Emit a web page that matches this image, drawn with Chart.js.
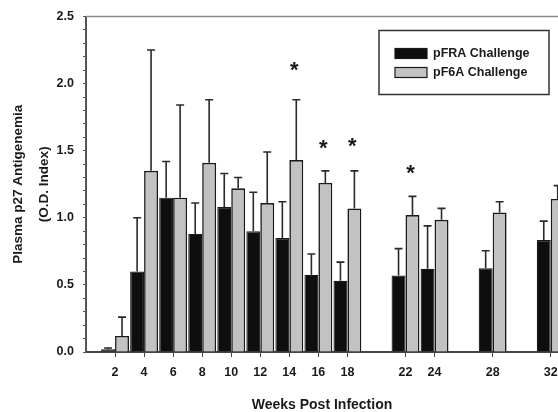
<!DOCTYPE html>
<html>
<head>
<meta charset="utf-8">
<script src="https://cdn.jsdelivr.net/npm/chart.js@4/dist/chart.umd.min.js"></script>
<style>
	html, body { margin: 0; padding: 0; background: #fff; }
	#wrap { width: 558px; height: 412px; position: relative; }
</style>
</head>
<body>
<div id="wrap"><canvas id="p27Chart"></canvas></div>
<script>
// --- Data ---
const weeks = [2, 4, 6, 8, 10, 12, 14, 16, 18, 22, 24, 28, 32];
const pfraMean = [0.02, 0.60, 1.15, 0.88, 1.08, 0.90, 0.85, 0.575, 0.53, 0.57, 0.62, 0.625, 0.835];
const pfraErr = [0.01, 0.40, 0.27, 0.23, 0.25, 0.29, 0.27, 0.155, 0.14, 0.20, 0.32, 0.13, 0.14];
const pf6aMean = [0.12, 1.35, 1.15, 1.41, 1.22, 1.11, 1.43, 1.26, 1.07, 1.02, 0.985, 1.04, 1.14];
const pf6aErr = [0.14, 0.90, 0.69, 0.47, 0.08, 0.38, 0.45, 0.09, 0.28, 0.14, 0.085, 0.08, 0.10];
// significant points, marked with "*" over the pF6A bars
const starWeeks = [14, 16, 18, 22];
const starLevels = [2.11, 1.53, 1.54, 1.34];
const yTicks = [0.0, 0.5, 1.0, 1.5, 2.0, 2.5];

const FONT = "Arial, 'Liberation Sans', sans-serif";
const INK = "#1a1a1a";

function points(means) {
	return weeks.map((w, i) => ({ x: w, y: means[i] }));
}

// Error bars (upper only, with a cap)
const errorBars = {
	id: "errorBars",
	afterDatasetsDraw(chart) {
		const ctx = chart.ctx;
		const y = chart.scales.y;
		ctx.save();
		ctx.strokeStyle = "#2a2a2a";
		ctx.lineWidth = 1.6;
		chart.data.datasets.forEach((ds, i) => {
			const meta = chart.getDatasetMeta(i);
			meta.data.forEach((bar, j) => {
				const top = y.getPixelForValue(ds.data[j].y + ds.errors[j]);
				ctx.beginPath();
				ctx.moveTo(bar.x, bar.y);
				ctx.lineTo(bar.x, top);
				ctx.moveTo(bar.x - 4, top);
				ctx.lineTo(bar.x + 4, top);
				ctx.stroke();
			});
		});
		ctx.restore();
	},
};

// Asterisks above the pF6A error bars
const stars = {
	id: "stars",
	afterDatasetsDraw(chart) {
		const ctx = chart.ctx;
		const y = chart.scales.y;
		const meta = chart.getDatasetMeta(1);
		ctx.save();
		ctx.fillStyle = INK;
		ctx.font = "bold 22px " + FONT;
		ctx.textAlign = "center";
		ctx.textBaseline = "middle";
		starWeeks.forEach((w, k) => {
			const bar = meta.data[weeks.indexOf(w)];
			// the glyph sits a little high in its box
			ctx.fillText("*", bar.x - 2, y.getPixelForValue(starLevels[k]) + 2);
		});
		ctx.restore();
	},
};

// Boxed legend + top frame line
const boxLegend = {
	id: "boxLegend",
	afterDraw(chart) {
		const ctx = chart.ctx;
		const area = chart.chartArea;
		ctx.save();
		// top frame line at 2.5
		ctx.strokeStyle = "#8a8a8a";
		ctx.lineWidth = 1.5;
		ctx.beginPath();
		ctx.moveTo(area.left, area.top);
		ctx.lineTo(area.right, area.top);
		ctx.stroke();

		const bx = area.right - 179, by = area.top + 14, bw = 170, bh = 64;
		ctx.strokeStyle = "#333";
		ctx.lineWidth = 1.5;
		ctx.strokeRect(bx, by, bw, bh);
		ctx.font = "bold 12.5px " + FONT;
		ctx.textBaseline = "middle";
		chart.data.datasets.forEach((ds, i) => {
			const cy = by + 23 + i * 19;
			ctx.fillStyle = ds.backgroundColor;
			ctx.fillRect(bx + 16, cy - 5, 32, 10);
			ctx.strokeStyle = ds.borderColor;
			ctx.lineWidth = 1.2;
			ctx.strokeRect(bx + 16, cy - 5, 32, 10);
			ctx.fillStyle = INK;
			ctx.fillText(ds.label, bx + 54, cy);
		});
		ctx.restore();
	},
};

const ctx = document.getElementById("p27Chart");
new Chart(ctx, {
	type: "bar",
	data: {
		datasets: [
			{
				label: "pFRA Challenge",
				data: points(pfraMean),
				errors: pfraErr,
				backgroundColor: "#0e0e0e",
				borderColor: "#1a1a1a",
				borderWidth: 1.2,
				categoryPercentage: 0.96,
				barPercentage: 1.0,
			},
			{
				label: "pF6A Challenge",
				data: points(pf6aMean),
				errors: pf6aErr,
				backgroundColor: "#c2c2c2",
				borderColor: "#1a1a1a",
				borderWidth: 1.6,
				categoryPercentage: 0.96,
				barPercentage: 1.0,
			},
		],
	},
	options: {
		responsive: true,
		maintainAspectRatio: false,
		animation: false,
		layout: { padding: { top: 16, right: 0, left: 0, bottom: 0 } },
		plugins: {
			legend: { display: false },
			tooltip: { enabled: false },
		},
		scales: {
			x: {
				type: "linear",
				offset: false,
				min: 0,
				max: 32.5,
				afterBuildTicks: (axis) => {
					axis.ticks = weeks.map((w) => ({ value: w }));
				},
				afterFit: (scale) => {
					// the figure is cropped at the right, so let the last label run to the edge
					scale.height = 60;
					scale.paddingRight = 0;
					scale.paddingLeft = 0;
				},
				ticks: {
					autoSkip: false,
					maxRotation: 0,
					padding: 8,
					color: INK,
					font: { family: FONT, size: 12.5, weight: "bold" },
				},
				grid: { offset: false, drawOnChartArea: false, tickLength: 5, color: "#444" },
				border: { color: "#444", width: 2 },
				title: {
					display: true,
					text: "Weeks Post Infection",
					color: INK,
					padding: 0,
					font: { family: FONT, size: 14, weight: "bold", lineHeight: 1 },
				},
			},
			y: {
				min: 0,
				max: 2.5,
				afterBuildTicks: (axis) => {
					const t = [];
					for (let k = 0; k <= 25; k++) t.push({ value: k / 10 });
					axis.ticks = t;
				},
				afterFit: (scale) => {
					scale.width = 86;
				},
				ticks: {
					autoSkip: false,
					padding: 9,
					color: INK,
					font: { family: FONT, size: 12.5, weight: "bold" },
					callback: (v) => {
						const hit = yTicks.find((t) => Math.abs(t - v) < 1e-6);
						return hit === undefined ? "" : hit.toFixed(1);
					},
				},
				grid: { drawOnChartArea: false, tickLength: 3, color: "#555" },
				border: { color: "#555", width: 2 },
				title: {
					display: true,
					text: ["Plasma p27 Antigenemia", "(O.D. Index)"],
					color: INK,
					padding: { top: 5, bottom: 0 },
					font: { family: FONT, size: 13.5, weight: "bold", lineHeight: "26px" },
				},
			},
		},
	},
	plugins: [errorBars, stars, boxLegend],
});
</script>
</body>
</html>
